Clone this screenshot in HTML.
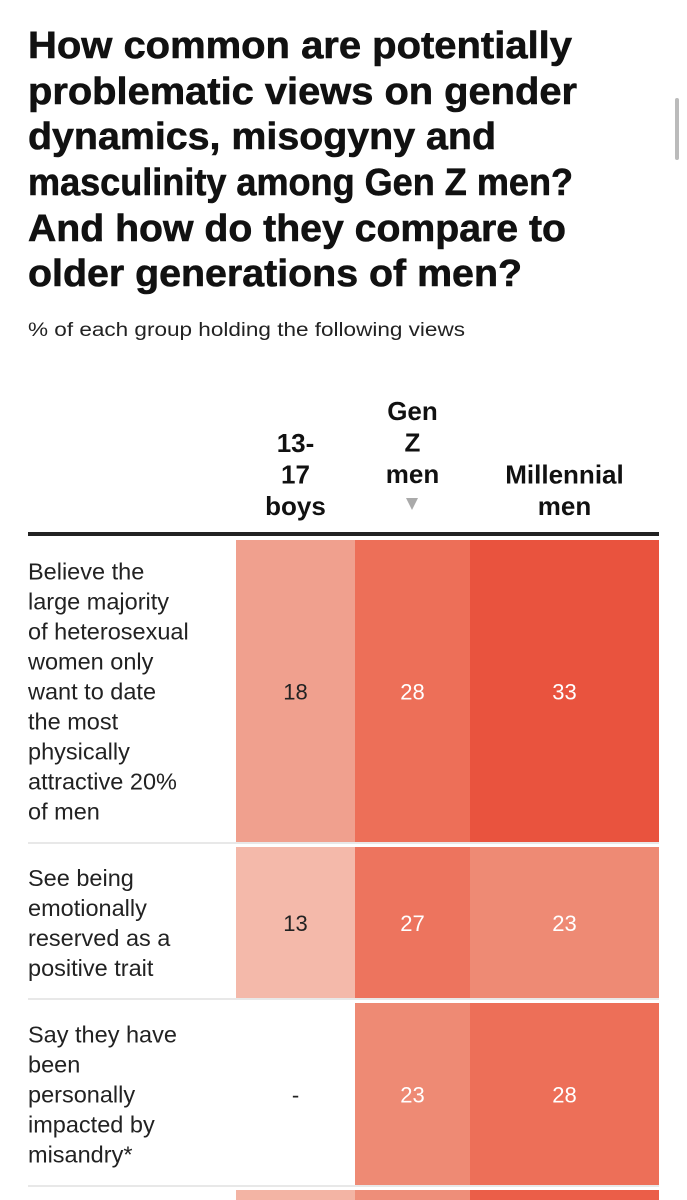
<!DOCTYPE html>
<html><head><meta charset="utf-8">
<style>
html,body{margin:0;padding:0;background:#fff;width:687px;height:1200px;overflow:hidden;}
svg{display:block;font-family:"Liberation Sans",sans-serif;}
</style></head>
<body>
<svg id="chart" width="687" height="1200" viewBox="0 0 687 1200">
  <g font-weight="bold" font-size="38" fill="#111" stroke="#111" stroke-width="0.6">
    <text x="28" y="58" textLength="544" lengthAdjust="spacingAndGlyphs">How common are potentially</text>
    <text x="28" y="104" textLength="549" lengthAdjust="spacingAndGlyphs">problematic views on gender</text>
    <text x="28" y="149" textLength="468" lengthAdjust="spacingAndGlyphs">dynamics, misogyny and</text>
    <text x="28" y="195" textLength="545" lengthAdjust="spacingAndGlyphs">masculinity among Gen Z men?</text>
    <text x="28" y="241" textLength="538" lengthAdjust="spacingAndGlyphs">And how do they compare to</text>
    <text x="28" y="286" textLength="494" lengthAdjust="spacingAndGlyphs">older generations of men?</text>
  </g>
  <text x="28" y="336" font-size="19" fill="#222" textLength="437" lengthAdjust="spacingAndGlyphs">% of each group holding the following views</text>
  <rect x="675" y="98" width="4" height="62" rx="2" fill="#bbb"/>
  <g id="headers" font-weight="bold" font-size="26" fill="#111" text-anchor="middle"></g>
  <rect x="28" y="532" width="631" height="4" fill="#222"/>
  <g id="cells"></g>
  <g id="labels" font-size="23.5" fill="#222"></g>
</svg>
<script>
const columns = ["13-17 boys", "Gen Z men", "Millennial men"];
const rowLabels = [
  ["Believe the","large majority","of heterosexual","women only","want to date","the most","physically","attractive 20%","of men"],
  ["See being","emotionally","reserved as a","positive trait"],
  ["Say they have","been","personally","impacted by","misandry*"],
  [""]
];
const boys = [18, 13, null, 14];
const genZ = [28, 27, 23, 22];
const millennial = [33, 23, 28, 31];

const NS = "http://www.w3.org/2000/svg";
const colX = [236, 355, 470, 659];
const rowTop = [540, 847, 1003, 1190];
const rowBot = [843, 999, 1186, 1200];
const stops = [[10,[246,200,188]],[13,[244,185,170]],[18,[240,160,142]],[23,[238,138,116]],[28,[237,111,88]],[33,[233,83,62]],[40,[225,60,40]]];
function color(v){
  for(let i=0;i<stops.length-1;i++){
    const a=stops[i],b=stops[i+1];
    if(v<=b[0]){const t=Math.max(0,(v-a[0])/(b[0]-a[0]));
      return "rgb("+a[1].map((c,k)=>Math.round(c+(b[1][k]-c)*t)).join(",")+")";}
  }
  return "rgb(225,60,40)";
}
function el(tag, attrs, parent){const e=document.createElementNS(NS,tag);for(const k in attrs)e.setAttribute(k,attrs[k]);parent.appendChild(e);return e;}

const hdr = document.getElementById("headers");
const hdrLines = [["13-","17","boys"],["Gen","Z","men"],["Millennial","men"]];
hdrLines.forEach((lines,c)=>{
  const cx=(colX[c]+colX[c+1])/2;
  const g=el("g",{},hdr);
  
  
  const baseEnd = c===1 ? 483 : 515;
  lines.forEach((ln,i)=>{
    const t=el("text",{x:cx,y:baseEnd-(lines.length-1-i)*31.5},g);
    t.textContent=ln;
  });
});
const tri=el("path",{d:"M406 498 L418 498 L412 510 Z",fill:"#aaa"},hdr);



const cells=document.getElementById("cells");
const series=[boys,genZ,millennial];
rowTop.forEach((top,r)=>{
  if(r>0){
    const sep=el("rect",{x:28,y:top-5,width:631,height:2,fill:"#e8e8e8"},cells);
    
    
  }
  series.forEach((s,c)=>{
    const v=s[r];
    const x0=colX[c],w=colX[c+1]-colX[c],h=rowBot[r]-top;
    if(v!==null){
      const rc=el("rect",{x:x0,y:top,width:w,height:h,fill:color(v)},cells);
      
      
    }
    if(r<3){
      const t=el("text",{x:x0+w/2,y:(top+rowBot[r])/2+8,"font-size":22,"text-anchor":"middle",fill:(v!==null&&v>=20)?"#fff":"#222"},cells);
      
      
      t.textContent=v===null?"-":String(v);
    }
  });
});

const lab=document.getElementById("labels");
rowLabels.forEach((lines,r)=>{
  const g=el("g",{},lab);
  
  
  const mid=(rowTop[r]+rowBot[r])/2;
  const n=lines.length;
  lines.forEach((ln,i)=>{
    const t=el("text",{x:28,y:mid+(i-(n-1)/2)*30+8},g);
    t.textContent=ln;
  });
});
</script>
</body></html>
